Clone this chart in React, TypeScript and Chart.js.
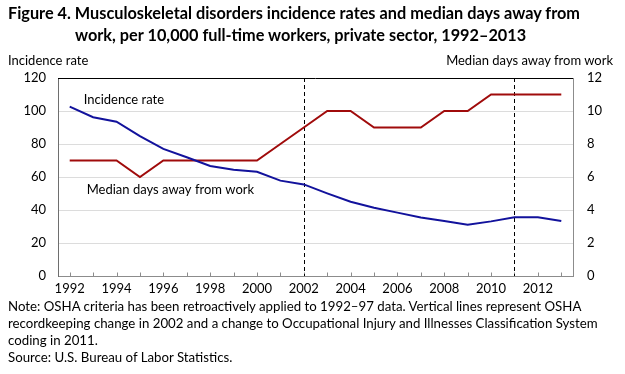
import React, { useEffect, useRef } from 'react';
import { Chart, registerables } from 'chart.js';

Chart.register(...registerables);

const years = [
  '1992', '1993', '1994', '1995', '1996', '1997', '1998', '1999', '2000', '2001', '2002',
  '2003', '2004', '2005', '2006', '2007', '2008', '2009', '2010', '2011', '2012', '2013',
];
const incidenceRate = [
  102.6, 96.2, 93.5, 84.8, 77.0, 72.0, 66.7, 64.4, 63.2, 57.8, 55.5,
  50.1, 45.0, 41.4, 38.4, 35.4, 33.3, 31.1, 33.1, 35.6, 35.6, 33.3,
];
const medianDays = [
  7, 7, 7, 6, 7, 7, 7, 7, 7, 8, 9,
  10, 10, 9, 9, 9, 10, 10, 11, 11, 11, 11,
];
const markerYears = ['2002', '2011'];

const titleLine1 = 'Figure 4. Musculoskeletal disorders incidence rates and median days away from';
const titleLine2 = 'work, per 10,000 full-time workers, private sector, 1992\u20132013';
const leftAxisTitle = 'Incidence rate';
const rightAxisTitle = 'Median days away from work';
const incidenceLabel = 'Incidence rate';
const medianLabel = 'Median days away from work';
const noteLines = [
  'Note: OSHA criteria has been retroactively applied to 1992\u201397 data. Vertical lines represent OSHA',
  'recordkeeping change in 2002 and a change to Occupational Injury and Illnesses Classification System',
  'coding in 2011.',
  'Source: U.S. Bureau of Labor Statistics.',
];

const BLUE = '#12129c';
const RED = '#a00b0b';
const FONT = 'Lato, "Liberation Sans", sans-serif';

export default function App() {
  const ref = useRef<HTMLCanvasElement>(null);

  useEffect(() => {
    const canvas = ref.current;
    if (!canvas) return;

    const decor = {
      id: 'decor',
      beforeDatasetsDraw(chart: any) {
        const { ctx, chartArea: a, scales } = chart;
        const x = scales.x;
        ctx.save();
        ctx.lineWidth = 1;
        // inward tick marks on x axis
        ctx.strokeStyle = '#8c8c8c';
        years.forEach((_, i) => {
          const px = Math.round(x.getPixelForValue(i)) + 0.5;
          ctx.beginPath();
          ctx.moveTo(px, a.bottom);
          ctx.lineTo(px, a.bottom - 3.5);
          ctx.stroke();
        });
        // dashed vertical marker lines
        ctx.strokeStyle = '#000';
        ctx.setLineDash([4, 3]);
        markerYears.forEach((yr) => {
          const px = Math.round(x.getPixelForValue(years.indexOf(yr))) + 0.5;
          ctx.beginPath();
          ctx.moveTo(px, a.top);
          ctx.lineTo(px, a.bottom);
          ctx.stroke();
        });
        ctx.setLineDash([]);
        // top frame line
        ctx.strokeStyle = '#000';
        ctx.beginPath();
        ctx.moveTo(a.left, a.top + 0.5);
        ctx.lineTo(a.right, a.top + 0.5);
        ctx.stroke();
        ctx.restore();
      },
      afterDatasetsDraw(chart: any) {
        const { ctx, scales } = chart;
        const x = scales.x;
        const y = scales.y;
        ctx.save();
        ctx.fillStyle = '#000';
        ctx.font = `13px ${FONT}`;
        ctx.textAlign = 'left';
        ctx.textBaseline = 'alphabetic';
        ctx.fillText(incidenceLabel, x.getPixelForValue(0) + 14, y.getPixelForValue(104.5));
        ctx.fillText(medianLabel, x.getPixelForValue(0) + 17, y.getPixelForValue(49.5));
        ctx.restore();
      },
    };

    const chart = new Chart(canvas, {
      type: 'line',
      data: {
        labels: years,
        datasets: [
          {
            label: 'Incidence rate',
            data: incidenceRate,
            yAxisID: 'y',
            borderColor: BLUE,
            backgroundColor: BLUE,
            borderWidth: 2,
            pointRadius: 0,
            tension: 0,
          },
          {
            label: 'Median days away from work',
            data: medianDays,
            yAxisID: 'y1',
            borderColor: RED,
            backgroundColor: RED,
            borderWidth: 2,
            pointRadius: 0,
            tension: 0,
          },
        ],
      },
      options: {
        responsive: false,
        animation: false,
        events: [],
        layout: { padding: { left: 8, right: 12, top: 78, bottom: 78 } },
        plugins: {
          legend: { display: false },
          title: { display: false },
          tooltip: { enabled: false },
        },
        scales: {
          x: {
            type: 'category',
            offset: true,
            grid: { display: false, drawTicks: false },
            border: { display: true, color: '#8c8c8c', width: 1 },
            ticks: {
              autoSkip: false,
              maxRotation: 0,
              minRotation: 0,
              padding: 5,
              color: '#000',
              font: { family: FONT, size: 13 },
              callback: (_v: any, i: number) => (i % 2 === 0 ? years[i] : ''),
            },
            afterFit: (s: any) => { s.height = 20; },
          },
          y: {
            position: 'left',
            min: 0,
            max: 120,
            grid: {
              drawTicks: false,
              color: (c: any) => (c.tick && (c.tick.value === 0 || c.tick.value === 120) ? 'rgba(0,0,0,0)' : '#dcdcdc'),
            },
            border: { display: true, color: '#6e6e6e', width: 1 },
            ticks: {
              stepSize: 20,
              padding: 12,
              color: '#000',
              font: { family: FONT, size: 13 },
            },
            afterFit: (s: any) => { s.width = 50; },
          },
          y1: {
            position: 'right',
            min: 0,
            max: 12,
            grid: { drawOnChartArea: false, drawTicks: false },
            border: { display: true, color: '#8c8c8c', width: 1 },
            ticks: {
              stepSize: 2,
              padding: 14,
              color: '#000',
              font: { family: FONT, size: 13 },
            },
            afterFit: (s: any) => { s.width = 40; },
          },
        },
      },
      plugins: [decor],
    });

    return () => chart.destroy();
  }, []);

  const textBase: React.CSSProperties = {
    position: 'absolute',
    whiteSpace: 'nowrap',
    color: '#000',
    fontFamily: FONT,
  };

  return (
    <div style={{ position: 'absolute', left: 0, top: 0, width: 625, height: 374, background: '#fff' }}>
      <canvas ref={ref} width={625} height={374} style={{ position: 'absolute', left: 0, top: 0, display: 'block' }} />
      <div style={{ ...textBase, left: 8, top: 2, fontSize: 16.3, lineHeight: '22px', fontWeight: 700 }}>
        <div>{titleLine1}</div>
        <div style={{ paddingLeft: 67 }}>{titleLine2}</div>
      </div>
      <div style={{ ...textBase, left: 8, top: 51.5, fontSize: 13, lineHeight: '17px' }}>{leftAxisTitle}</div>
      <div style={{ ...textBase, right: 12, top: 51.5, fontSize: 13, lineHeight: '17px' }}>{rightAxisTitle}</div>
      <div style={{ ...textBase, left: 8, top: 298, fontSize: 13.25, lineHeight: '17px' }}>
        {noteLines.map((l, i) => (
          <div key={i}>{l}</div>
        ))}
      </div>
    </div>
  );
}
